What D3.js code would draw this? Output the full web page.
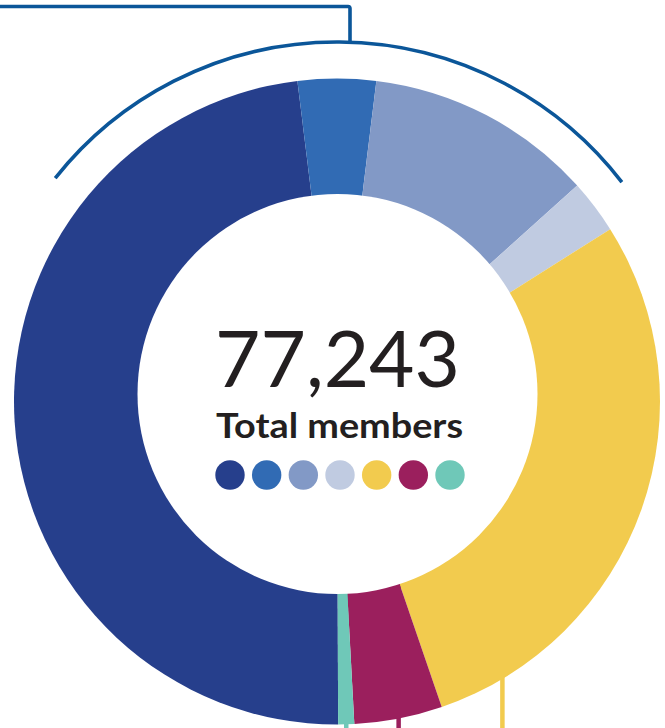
<!doctype html>
<html lang="en">
<head>
  <meta charset="utf-8">
  <title>Total members</title>
  <script src="https://d3js.org/d3.v7.min.js"></script>
  <style>
    html, body { margin: 0; padding: 0; background: #fff; }
    svg { display: block; }
  </style>
</head>
<body>
  <div id="chart"></div>
  <script type="text/javascript">

    var width = 665, height = 728;

    // member groups, clockwise starting at the bottom (shares in %)
    var groups = ['g1', 'g2', 'g3', 'g4', 'g5', 'g6', 'g7'];
    var shares = [48.1, 3.9, 11.4, 2.7, 28.7, 4.4, 0.8];
    var colors = ['#263f8c', '#316bb4', '#8299c6', '#c0cbe1', '#f2cb4e', '#9b1f5d', '#6fc8b8'];
    var totalLabel = '77,243';
    var subLabel = 'Total members';

    // leader lines under the ring: which segment, and where inside it (0..1)
    var leaderSeg = [4, 5, 6];
    var leaderPos = [0.885, 0.5, 0.5];

    var cx = 337, cy = 401.5;
    var outerR = 323;
    var hole = { x: 337.5, y: 394, r: 200 };
    var bracketR = 359.5;
    var lineBlue = '#0b5699';

    var svg = d3.select('#chart')
                .append('svg')
                .attr('width', width)
                .attr('height', height);

    var deg = Math.PI / 180;
    var start = 179.8 * deg;

    var pie = d3.pie()
                .sort(null)
                .value(function(d) { return d; })
                .startAngle(start)
                .endAngle(start + 2 * Math.PI);

    var arcs = pie(shares);

    var g = svg.append('g').attr('transform', 'translate(' + cx + ',' + cy + ')');

    // leader lines go down from the outer edge to the bottom of the picture
    leaderSeg.forEach(function(s, i) {
      var a = arcs[s].startAngle + (arcs[s].endAngle - arcs[s].startAngle) * leaderPos[i];
      var x = outerR * Math.sin(a);
      g.append('line')
        .attr('x1', x).attr('x2', x)
        .attr('y1', 0).attr('y2', height - cy + 5)
        .attr('stroke', colors[s])
        .attr('stroke-width', 4.5);
    });

    var arc = d3.arc().innerRadius(0).outerRadius(outerR);

    g.selectAll('.slice')
      .data(arcs)
      .enter()
      .append('path')
      .attr('class', 'slice')
      .attr('d', arc)
      .attr('fill', function(d, i) { return colors[i]; });

    // the hole sits a little above the ring's centre
    svg.append('circle')
      .attr('cx', hole.x)
      .attr('cy', hole.y)
      .attr('r', hole.r)
      .attr('fill', '#fff');

    // bracket arc over the top part of the ring
    var bracket = d3.arc()
                    .innerRadius(bracketR)
                    .outerRadius(bracketR)
                    .startAngle(-51.6 * deg)
                    .endAngle(52.4 * deg);

    g.append('path')
      .attr('d', bracket())
      .attr('fill', 'none')
      .attr('stroke', lineBlue)
      .attr('stroke-width', 3.6)
      .attr('stroke-linecap', 'round');

    // connector from bracket up and off to the left
    var topX = 350, topY = 6.5;
    var arcTopY = cy - Math.sqrt(bracketR * bracketR - (topX - cx) * (topX - cx));
    svg.append('path')
      .attr('d', 'M' + topX + ',' + arcTopY + ' L' + topX + ',' + (topY + 2) +
                 ' Q' + topX + ',' + topY + ' ' + (topX - 2) + ',' + topY + ' L-5,' + topY)
      .attr('fill', 'none')
      .attr('stroke', lineBlue)
      .attr('stroke-width', 3.6);

    // centre labels
    svg.append('text')
      .attr('x', 337.5)
      .attr('y', 387)
      .attr('text-anchor', 'middle')
      .attr('font-family', 'Lato, "Open Sans", sans-serif')
      .attr('font-size', 78)
      .attr('textLength', 245)
      .attr('lengthAdjust', 'spacingAndGlyphs')
      .attr('fill', '#231f20')
      .text(totalLabel);

    svg.append('text')
      .attr('x', 339.5)
      .attr('y', 438)
      .attr('text-anchor', 'middle')
      .attr('font-family', 'Lato, "Open Sans", sans-serif')
      .attr('font-weight', 'bold')
      .attr('font-size', 35)
      .attr('textLength', 247)
      .attr('lengthAdjust', 'spacingAndGlyphs')
      .attr('fill', '#231f20')
      .text(subLabel);

    // colour key dots
    var dotX = d3.scalePoint()
                 .domain(groups)
                 .range([230, 450]);

    svg.selectAll('.dot')
      .data(groups)
      .enter()
      .append('circle')
      .attr('class', 'dot')
      .attr('cx', function(d) { return dotX(d); })
      .attr('cy', 475)
      .attr('r', 14.7)
      .attr('fill', function(d, i) { return colors[i]; });

  </script>
</body>
</html>
